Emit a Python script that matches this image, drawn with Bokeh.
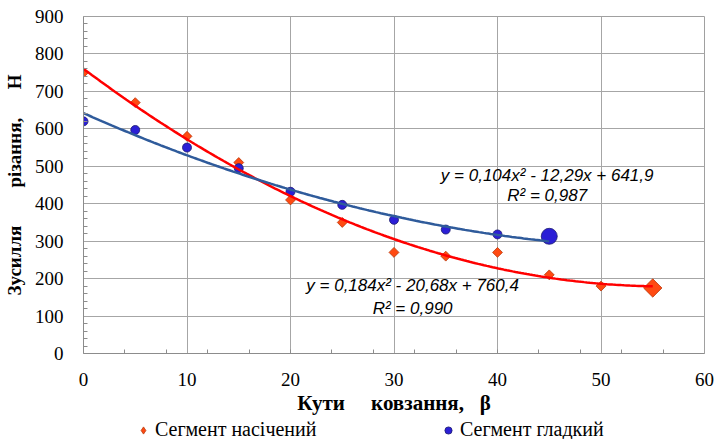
import numpy as np
from bokeh.plotting import figure
from bokeh.layouts import column
from bokeh.models import (ColumnDataSource, FixedTicker, Legend, LegendItem, Label, Range1d)
from bokeh.embed import file_html
from bokeh.resources import INLINE

# ---- data ----
angle_notched = [0, 5, 10, 15, 20, 25, 30, 35, 40, 45, 50, 55]
force_notched = [750, 670, 580, 510, 410, 350, 270, 260, 270, 210, 180, 175]
angle_smooth = [0, 5, 10, 15, 20, 25, 30, 35, 40, 45]
force_smooth = [620, 597, 550, 495, 432, 397, 357, 331, 318, 313]

coef_notched = [0.184, -20.68, 760.4]   # y = a x^2 + b x + c
coef_smooth = [0.104, -12.29, 641.9]
eq_notched = "y = 0,184x² - 20,68x + 760,4"
r2_notched = "R² = 0,990"
eq_smooth = "y = 0,104x² - 12,29x + 641,9"
r2_smooth = "R² = 0,987"

x_ticks = [0, 10, 20, 30, 40, 50, 60]
y_ticks = [0, 100, 200, 300, 400, 500, 600, 700, 800, 900]
label_notched = "Сегмент насічений"
label_smooth = "Сегмент гладкий"
NB = "\u00a0"
x_title = "Кути" + NB * 5 + "ковзання," + NB * 3 + "β"
y_title = "Зусилля" + NB * 8 + "різання," + NB * 6 + "Н"

serif = "Liberation Serif"
grid_col = "#A6A6A6"
axis_col = "#8C8C8C"
orange_fill, orange_line = "#FF4A12", "#B8380A"
blue_fill, blue_line = "#2B1FD6", "#1A1A6E"

# ---- main figure ----
p = figure(width=715, height=419, output_backend="svg", toolbar_location=None,
           x_range=(0, 60), y_range=(0, 900),
           min_border_left=83, min_border_right=11, min_border_top=16, min_border_bottom=66)
p.background_fill_color = "white"
p.border_fill_color = "white"
p.outline_line_color = "#A0A0A0"

p.xaxis.ticker = FixedTicker(ticks=x_ticks, minor_ticks=list(range(4, 60, 4)))
p.yaxis.ticker = FixedTicker(ticks=y_ticks, minor_ticks=[v for v in range(20, 900, 20) if v % 100])

for ax in (p.xaxis[0], p.yaxis[0]):
    ax.axis_line_color = axis_col
    ax.major_tick_line_color = axis_col
    ax.minor_tick_line_color = axis_col
    ax.major_tick_in = 0
    ax.major_tick_out = 0
    ax.minor_tick_in = 4
    ax.minor_tick_out = 0
    ax.major_label_text_font = serif
    ax.major_label_text_font_size = "19px"
    ax.major_label_text_color = "black"
    ax.axis_label_text_font = serif
    ax.axis_label_text_font_style = "bold"
    ax.axis_label_text_color = "black"

p.xaxis.major_label_standoff = 19
p.yaxis.major_label_standoff = 20
p.xaxis.axis_label = x_title
p.yaxis.axis_label = y_title
p.xaxis.axis_label_text_font_size = "21px"
p.yaxis.axis_label_text_font_size = "19px"
p.xaxis.axis_label_standoff = 2
p.yaxis.axis_label_standoff = 7

p.xgrid.grid_line_color = grid_col
p.ygrid.grid_line_color = grid_col

# ---- markers ----
src_n = ColumnDataSource(dict(x=angle_notched[:-1], y=force_notched[:-1]))
src_s = ColumnDataSource(dict(x=angle_smooth[:-1], y=force_smooth[:-1]))

p.scatter("x", "y", source=src_n, marker="square", angle=np.pi / 4, size=7,
          fill_color=orange_fill, line_color=orange_line, line_width=0.8)
p.scatter(angle_notched[-1:], force_notched[-1:], marker="square", angle=np.pi / 4, size=13,
          fill_color=orange_fill, line_color=orange_line, line_width=0.8)
p.scatter("x", "y", source=src_s, marker="circle", size=9,
          fill_color=blue_fill, line_color=blue_line, line_width=0.8)
p.scatter(angle_smooth[-1:], force_smooth[-1:], marker="circle", size=16,
          fill_color=blue_fill, line_color=blue_line, line_width=0.8)

# ---- trend lines (from the printed regression equations) ----
xn = np.linspace(angle_notched[0], angle_notched[-1], 200)
xs = np.linspace(angle_smooth[0], angle_smooth[-1], 200)
p.line(xn, np.polyval(coef_notched, xn), line_color="#FF0000", line_width=2.5)
p.line(xs, np.polyval(coef_smooth, xs), line_color="#2F5B9B", line_width=2.5)

# ---- equation labels ----
def add_label(x, y, txt):
    p.add_layout(Label(x=x, y=y, text=txt, text_font="Liberation Sans",
                       text_font_style="italic", text_font_size="17px",
                       text_align="center", text_baseline="middle", text_color="black"))

add_label(44.8, 475, eq_smooth)
add_label(44.8, 422, r2_smooth)
add_label(31.8, 182, eq_notched)
add_label(31.8, 121, r2_notched)

# ---- legend strip (same series, ranges chosen so only the legend shows) ----
pl = figure(width=715, height=20, output_backend="svg", toolbar_location=None,
            x_axis_type=None, y_axis_type=None,
            x_range=Range1d(-2, -1), y_range=Range1d(-2, -1),
            min_border_left=0, min_border_right=0, min_border_top=0, min_border_bottom=0)
pl.outline_line_color = None
pl.xgrid.visible = False
pl.ygrid.visible = False
ln = pl.scatter(angle_notched, force_notched, marker="diamond", size=10,
                fill_color=orange_fill, line_color=orange_line, line_width=0.8)
ls = pl.scatter(angle_smooth, force_smooth, marker="circle", size=8,
                fill_color=blue_fill, line_color=blue_line, line_width=0.8)
legend = Legend(items=[LegendItem(label=label_notched, renderers=[ln]),
                       LegendItem(label=label_smooth, renderers=[ls])],
                orientation="horizontal", location=(51, -2),
                glyph_width=18, glyph_height=18, label_standoff=3, label_width=165,
                spacing=119, padding=0, margin=0,
                border_line_color=None, background_fill_alpha=0,
                label_text_font=serif, label_text_font_size="20px",
                label_text_color="black")
pl.add_layout(legend, "center")

layout = column(p, pl, spacing=0)
open("out.html", "w").write(file_html(layout, INLINE))
